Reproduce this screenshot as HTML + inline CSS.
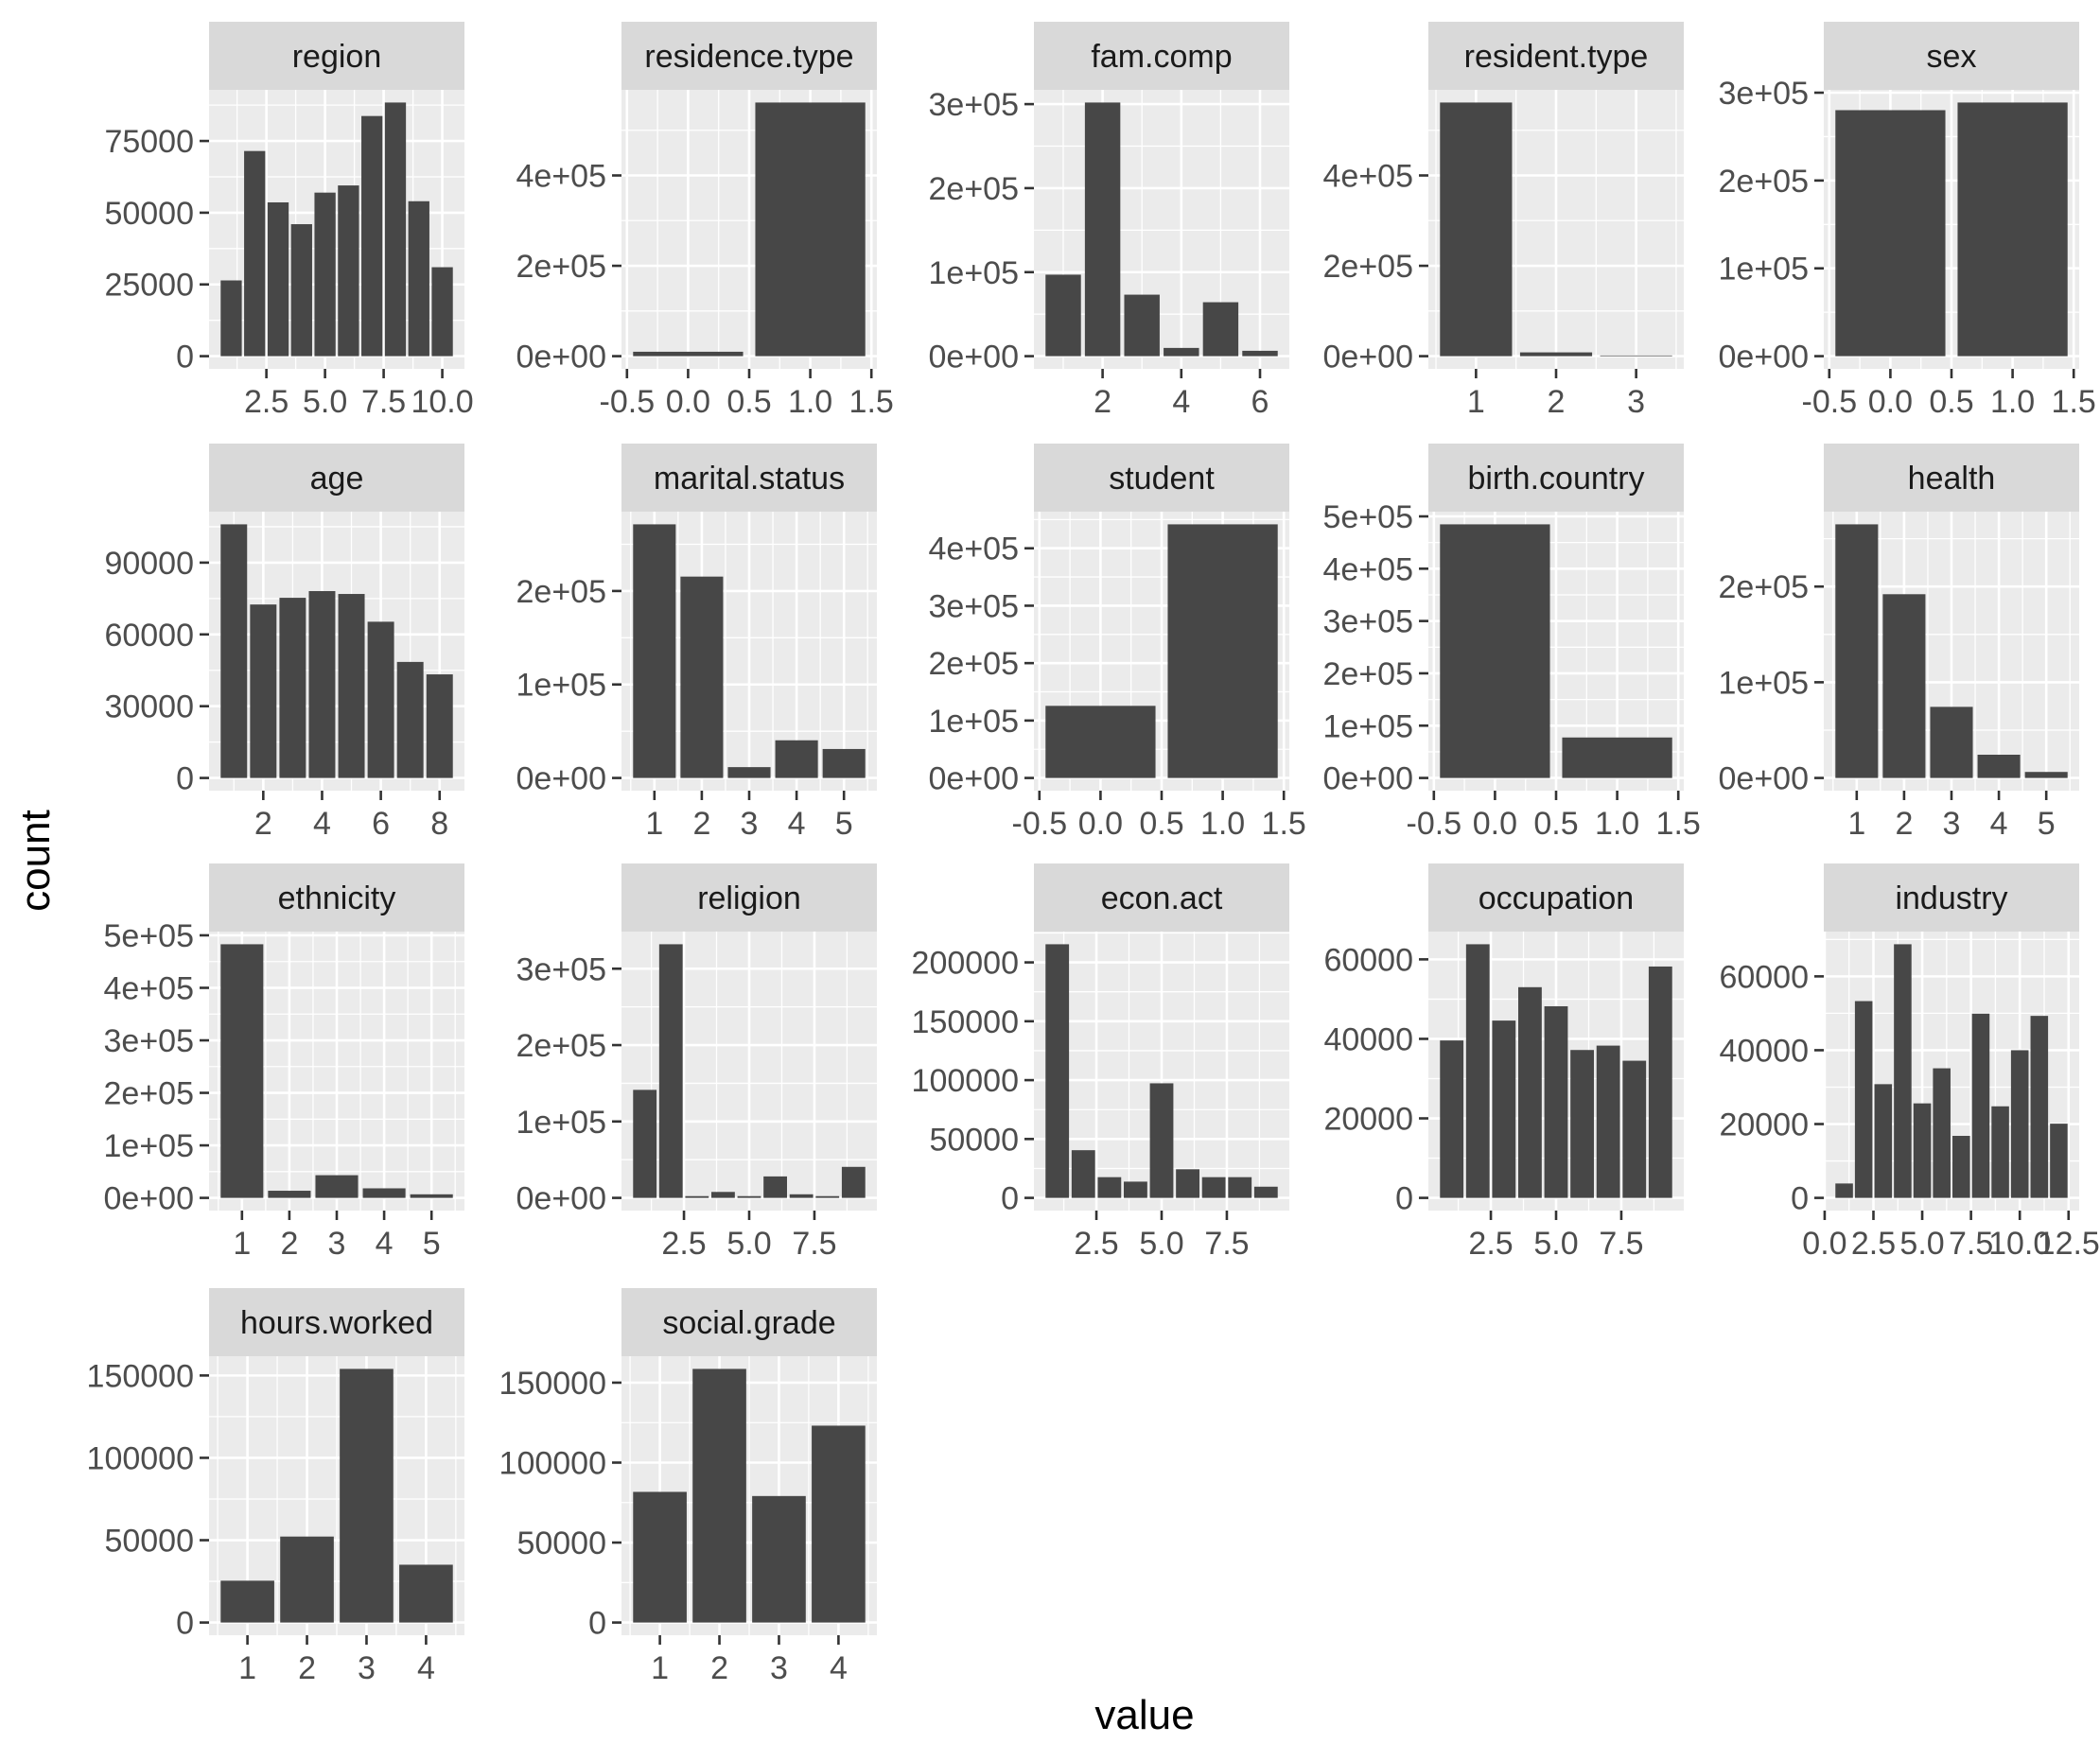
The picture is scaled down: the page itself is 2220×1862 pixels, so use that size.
<!DOCTYPE html>
<html><head><meta charset="utf-8">
<style>
html,body{margin:0;padding:0;background:#fff;}
svg{display:block;}
text{font-family:"Liberation Sans",Arial,sans-serif;}
</style></head>
<body>
<svg id="chart" width="2220" height="1862" viewBox="0 0 2220 1862" xmlns="http://www.w3.org/2000/svg">
<rect x="0" y="0" width="2220" height="1862" fill="#fff"/>
<text x="0" y="0" transform="translate(52,910) rotate(-90)" text-anchor="middle" font-size="44" fill="#000">count</text>
<text x="1210" y="1828" text-anchor="middle" font-size="44" fill="#000">value</text>
</svg>
<script>
const facetNames = ["region","residence.type","fam.comp","resident.type","sex","age","marital.status","student","birth.country","health","ethnicity","religion","econ.act","occupation","industry","hours.worked","social.grade"];
const regionCats = [1,2,3,4,5,6,7,8,9,10];
const regionCounts = [26400,71500,53600,46000,57000,59500,83700,88400,54000,31000];
const residenceCats = [0,1];
const residenceCounts = [9800,561400];
const famCats = [1,2,3,4,5,6];
const famCounts = [97000,301900,73200,9800,64200,6400];
const residentCats = [1,2,3];
const residentCounts = [561400,8400,1500];
const sexCats = [0,1];
const sexCounts = [280100,288800];
const ageCats = [1,2,3,4,5,6,7,8];
const ageCounts = [106000,72500,75300,78100,76900,65300,48500,43300];
const maritalCats = [1,2,3,4,5];
const maritalCounts = [271300,215400,11600,40300,31000];
const studentCats = [0,1];
const studentCounts = [125600,441700];
const birthCats = [0,1];
const birthCounts = [484800,77400];
const healthCats = [1,2,3,4,5];
const healthCounts = [265000,192000,74300,24300,6300];
const ethnicityCats = [1,2,3,4,5];
const ethnicityCounts = [483000,13600,43200,18200,6800];
const religionCats = [1,2,3,4,5,6,7,8,9];
const religionCounts = [141400,332000,2300,7800,2300,28100,4700,2300,40600];
const econCats = [1,2,3,4,5,6,7,8,9];
const econCounts = [215400,40500,17600,13800,97300,24300,17600,17600,9500];
const occupationCats = [1,2,3,4,5,6,7,8,9];
const occupationCounts = [39600,63800,44600,53000,48200,37200,38300,34500,58200];
const industryCats = [1,2,3,4,5,6,7,8,9,10,11,12];
const industryCounts = [3900,53300,30800,68700,25600,35100,16800,49900,24800,40000,49300,20100];
const hoursCats = [1,2,3,4];
const hoursCounts = [25400,52200,154000,35100];
const socialCats = [1,2,3,4];
const socialCounts = [81700,158600,79100,123100];

const xTicksHalf = [-0.5,0,0.5,1,1.5];
const xLabelsHalf = ["-0.5","0.0","0.5","1.0","1.5"];
const xTicks25 = [2.5,5,7.5];
const xLabels25 = ["2.5","5.0","7.5"];
const yTicksE5_3 = [0,100000,200000,300000];
const yLabelsE5_3 = ["0e+00","1e+05","2e+05","3e+05"];

const facets = [
 {cats:regionCats, vals:regionCounts, xt:[2.5,5,7.5,10], xl:["2.5","5.0","7.5","10.0"], yt:[0,25000,50000,75000], yl:["0","25000","50000","75000"]},
 {cats:residenceCats, vals:residenceCounts, xt:xTicksHalf, xl:xLabelsHalf, yt:[0,200000,400000], yl:["0e+00","2e+05","4e+05"]},
 {cats:famCats, vals:famCounts, xt:[2,4,6], xl:["2","4","6"], yt:yTicksE5_3, yl:yLabelsE5_3},
 {cats:residentCats, vals:residentCounts, xt:[1,2,3], xl:["1","2","3"], yt:[0,200000,400000], yl:["0e+00","2e+05","4e+05"]},
 {cats:sexCats, vals:sexCounts, xt:xTicksHalf, xl:xLabelsHalf, yt:yTicksE5_3, yl:yLabelsE5_3},
 {cats:ageCats, vals:ageCounts, xt:[2,4,6,8], xl:["2","4","6","8"], yt:[0,30000,60000,90000], yl:["0","30000","60000","90000"]},
 {cats:maritalCats, vals:maritalCounts, xt:[1,2,3,4,5], xl:["1","2","3","4","5"], yt:[0,100000,200000], yl:["0e+00","1e+05","2e+05"]},
 {cats:studentCats, vals:studentCounts, xt:xTicksHalf, xl:xLabelsHalf, yt:[0,100000,200000,300000,400000], yl:["0e+00","1e+05","2e+05","3e+05","4e+05"]},
 {cats:birthCats, vals:birthCounts, xt:xTicksHalf, xl:xLabelsHalf, yt:[0,100000,200000,300000,400000,500000], yl:["0e+00","1e+05","2e+05","3e+05","4e+05","5e+05"]},
 {cats:healthCats, vals:healthCounts, xt:[1,2,3,4,5], xl:["1","2","3","4","5"], yt:[0,100000,200000], yl:["0e+00","1e+05","2e+05"]},
 {cats:ethnicityCats, vals:ethnicityCounts, xt:[1,2,3,4,5], xl:["1","2","3","4","5"], yt:[0,100000,200000,300000,400000,500000], yl:["0e+00","1e+05","2e+05","3e+05","4e+05","5e+05"]},
 {cats:religionCats, vals:religionCounts, xt:xTicks25, xl:xLabels25, yt:yTicksE5_3, yl:yLabelsE5_3},
 {cats:econCats, vals:econCounts, xt:xTicks25, xl:xLabels25, yt:[0,50000,100000,150000,200000], yl:["0","50000","100000","150000","200000"]},
 {cats:occupationCats, vals:occupationCounts, xt:xTicks25, xl:xLabels25, yt:[0,20000,40000,60000], yl:["0","20000","40000","60000"]},
 {cats:industryCats, vals:industryCounts, xt:[0,2.5,5,7.5,10,12.5], xl:["0.0","2.5","5.0","7.5","10.0","12.5"], yt:[0,20000,40000,60000], yl:["0","20000","40000","60000"]},
 {cats:hoursCats, vals:hoursCounts, xt:[1,2,3,4], xl:["1","2","3","4"], yt:[0,50000,100000,150000], yl:["0","50000","100000","150000"]},
 {cats:socialCats, vals:socialCounts, xt:[1,2,3,4], xl:["1","2","3","4"], yt:[0,50000,100000,150000], yl:["0","50000","100000","150000"]}
];

const NS = "http://www.w3.org/2000/svg";
const svg = document.getElementById("chart");
const colX = [221,657,1093,1510,1928];
const rowY = [23,469,913,1362];
const PW = 270, SH = 72, PH = 295;

function mk(tag, attrs, parent){
  const e = document.createElementNS(NS, tag);
  for (const k in attrs) e.setAttribute(k, attrs[k]);
  parent.appendChild(e);
  return e;
}
function minors(ticks, lo, hi){
  if (ticks.length < 2) return [];
  const step = ticks[1]-ticks[0];
  const out = [];
  for (let v = ticks[0]-step/2; v > lo; v -= step) out.push(v);
  for (let v = ticks[0]+step/2; v < hi; v += step) out.push(v);
  return out;
}

facets.forEach((f, i) => {
  const col = i % 5, row = Math.floor(i / 5);
  const px = colX[col], sy = rowY[row], py = sy + SH;
  const g = mk("g", {}, svg);
  
  

  const xmin0 = Math.min(...f.cats) - 0.45, xmax0 = Math.max(...f.cats) + 0.45;
  const xpad = (xmax0 - xmin0) * 0.05;
  const xlo = xmin0 - xpad, xhi = xmax0 + xpad;
  const ymax0 = Math.max(...f.vals);
  const ylo = -0.05 * ymax0, yhi = 1.05 * ymax0;
  const sx = v => px + (v - xlo) / (xhi - xlo) * PW;
  const syy = v => py + PH - (v - ylo) / (yhi - ylo) * PH;

  const strip = mk("rect", {x:px, y:sy, width:PW, height:SH, fill:"#d9d9d9"}, g);
  
  
  const st = mk("text", {x:px+PW/2, y:sy+SH/2+12, "text-anchor":"middle", "font-size":"34", fill:"#1a1a1a"}, g);
  st.textContent = facetNames[i];
  
  

  const bg = mk("rect", {x:px, y:py, width:PW, height:PH, fill:"#ebebeb"}, g);
  
  

  minors(f.xt, xlo, xhi).forEach(v => mk("line", {x1:sx(v), x2:sx(v), y1:py, y2:py+PH, stroke:"#fff", "stroke-width":"1.3"}, g));
  minors(f.yt, ylo, yhi).forEach(v => mk("line", {x1:px, x2:px+PW, y1:syy(v), y2:syy(v), stroke:"#fff", "stroke-width":"1.3"}, g));
  f.xt.forEach(v => mk("line", {x1:sx(v), x2:sx(v), y1:py, y2:py+PH, stroke:"#fff", "stroke-width":"2.6"}, g));
  f.yt.forEach(v => mk("line", {x1:px, x2:px+PW, y1:syy(v), y2:syy(v), stroke:"#fff", "stroke-width":"2.6"}, g));

  f.cats.forEach((c, j) => {
    const x0 = sx(c - 0.45), x1 = sx(c + 0.45);
    const y0 = syy(0), y1 = syy(f.vals[j]);
    const b = mk("rect", {x:x0, y:y1, width:x1-x0, height:Math.max(0.5, y0-y1), fill:"#474747"}, g);
    
    
  });

  f.xt.forEach((v, j) => {
    mk("line", {x1:sx(v), x2:sx(v), y1:py+PH, y2:py+PH+10, stroke:"#333", "stroke-width":"2.6"}, g);
    const t = mk("text", {x:sx(v), y:py+PH+46, "text-anchor":"middle", "font-size":"34", fill:"#4d4d4d"}, g);
    t.textContent = f.xl[j];
    
    
  });
  f.yt.forEach((v, j) => {
    mk("line", {x1:px-10, x2:px, y1:syy(v), y2:syy(v), stroke:"#333", "stroke-width":"2.6"}, g);
    const t = mk("text", {x:px-16, y:syy(v)+12, "text-anchor":"end", "font-size":"34", fill:"#4d4d4d"}, g);
    t.textContent = f.yl[j];
    
    
  });
});
</script>
</body></html>
